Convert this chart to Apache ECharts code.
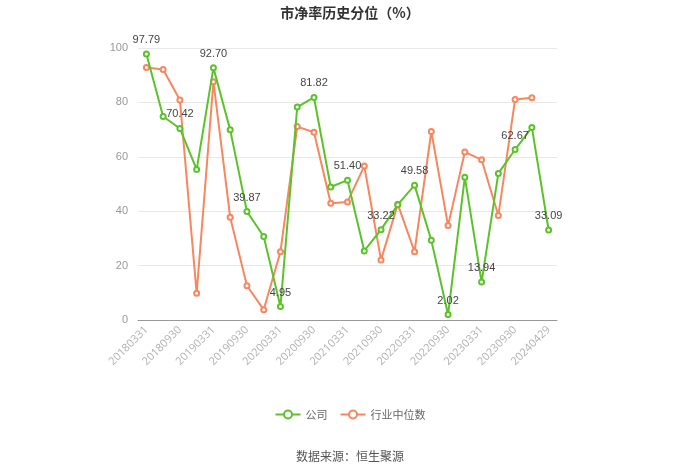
<!DOCTYPE html>
<html><head><meta charset="utf-8">
<script src="https://cdn.jsdelivr.net/npm/echarts@6/dist/echarts.min.js"></script>
<style>html,body{margin:0;padding:0;background:#fff}#c{width:700px;height:474px}</style>
</head><body><div id="c"></div>
<script>
var categories = ['20180331','20180630','20180930','20181231','20190331','20190630','20190930','20191231','20200331','20200630','20200930','20201231','20210331','20210630','20210930','20211231','20220331','20220630','20220930','20221231','20230331','20230630','20230930','20231231','20240429'];
var companyValues = [97.79,74.8,70.42,55.3,92.70,69.9,39.87,30.7,4.95,78.3,81.82,48.9,51.40,25.4,33.22,42.4,49.58,29.3,2.02,52.5,13.94,53.9,62.67,70.8,33.09];
var industryValues = [92.8,92.1,80.9,9.8,87.6,37.8,12.6,3.8,25.1,71.1,69.0,42.9,43.4,56.6,22.1,42.6,25.1,69.3,34.7,61.8,58.9,38.4,81.1,81.7,null];
var yTicks = {min:0,max:100,interval:20};

var chart = echarts.init(document.getElementById('c'));
chart.setOption({
  animation:false,
  title:{text:'市净率历史分位（%）',left:'center',top:1,textStyle:{fontSize:14,fontWeight:'bold',color:'#333',fontFamily:'"Noto Sans CJK SC", sans-serif'}},
  grid:{left:138,right:143,top:48,bottom:154},
  legend:{bottom:49,left:'center',itemWidth:25,itemHeight:10,itemGap:12,textStyle:{fontSize:11,color:'#666',fontFamily:'"Noto Sans CJK SC", sans-serif'},data:['公司','行业中位数']},
  graphic:[{type:'text',left:'center',top:450,style:{text:'数据来源：恒生聚源',fontSize:12,fill:'#555',fontFamily:'"Noto Sans CJK SC", sans-serif'}}],
  xAxis:{type:'category',data:categories,boundaryGap:true,
    axisLine:{lineStyle:{color:'#999'}},
    axisTick:{alignWithLabel:true,interval:1,lineStyle:{color:'#999'}},
    axisLabel:{interval:1,rotate:45,color:'#b0b0b0',fontSize:11,fontFamily:'"Open Sans", sans-serif'}},
  yAxis:{type:'value',min:yTicks.min,max:yTicks.max,interval:yTicks.interval,
    axisLine:{show:false},axisTick:{show:false},
    axisLabel:{color:'#999',fontSize:11,margin:10},
    splitLine:{lineStyle:{color:'#e8e8e8'}}},
  series:[
    {name:'公司',type:'line',data:companyValues,symbol:'emptyCircle',symbolSize:5,
      itemStyle:{color:'#5cc22c'},lineStyle:{width:2,color:'#5cc22c'},z:3,
      label:{show:true,position:'top',fontSize:11,color:'#444',
        formatter:function(p){return p.dataIndex%2===0?p.value.toFixed(2):'';}}},
    {name:'行业中位数',type:'line',data:industryValues,symbol:'emptyCircle',symbolSize:5,
      itemStyle:{color:'#f7875f'},lineStyle:{width:2,color:'#f7875f'},z:2}
  ]
});
</script></body></html>
